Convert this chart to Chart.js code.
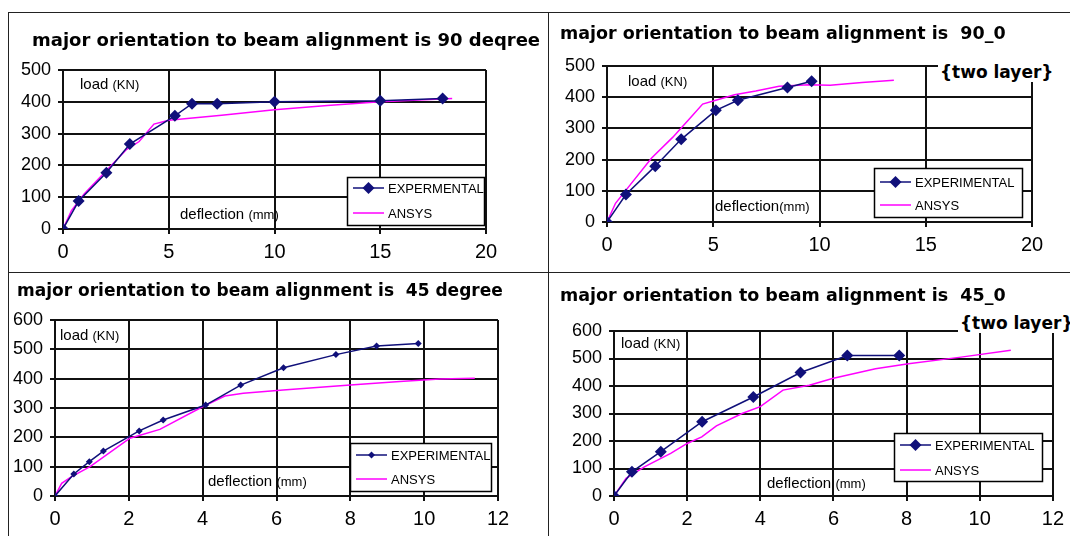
<!DOCTYPE html>
<html>
<head>
<meta charset="utf-8">
<script src="https://cdn.jsdelivr.net/npm/chart.js@4.4.0/dist/chart.umd.min.js"></script>
<style>
	body { margin: 0; width: 1070px; height: 536px; background: #fff; position: relative; overflow: hidden; font-family: "Liberation Sans", Arial, sans-serif; }
	canvas { position: absolute; }
	.rule { position: absolute; background: #222; }
	.title { position: absolute; font: bold 17px "DejaVu Sans", Verdana, sans-serif; line-height: 20px; white-space: pre; color: #000; z-index: 2; }
	.layer { background: #fff; padding: 0 2px; }
	.inner { position: absolute; font-size: 15px; line-height: 18px; white-space: pre; color: #000; z-index: 2; }
	.inner small { font-size: 13px; }
</style>
</head>
<body>

<div class="rule" style="left:8px;top:12px;width:1062px;height:1px"></div>
<div class="rule" style="left:8px;top:12px;width:1px;height:524px"></div>
<div class="rule" style="left:548px;top:12px;width:1px;height:524px"></div>
<div class="rule" style="left:8px;top:272px;width:1062px;height:1px"></div>

<div class="title" style="left:32px;top:30px;font-size:18px">major orientation to beam alignment is 90 deqree</div>
<div class="title" style="left:560px;top:23px;font-size:17.5px">major orientation to beam alignment is  90_0</div>
<div class="title layer" style="left:938px;top:62px">{two layer}</div>
<div class="title" style="left:17px;top:280px">major orientation to beam alignment is  45 degree</div>
<div class="title" style="left:560px;top:285px;font-size:17.5px">major orientation to beam alignment is  45_0</div>
<div class="title layer" style="left:958px;top:313px">{two layer}</div>

<div class="inner" style="left:80px;top:75px">load <small>(KN)</small></div>
<div class="inner" style="left:180px;top:205px">deflection <small>(mm)</small></div>
<div class="inner" style="left:628px;top:72px">load <small>(KN)</small></div>
<div class="inner" style="left:715px;top:197px">deflection<small>(mm)</small></div>
<div class="inner" style="left:60px;top:326px">load <small>(KN)</small></div>
<div class="inner" style="left:208px;top:472px">deflection <small>(mm)</small></div>
<div class="inner" style="left:621px;top:334px">load <small>(KN)</small></div>
<div class="inner" style="left:767px;top:474px">deflection <small>(mm)</small></div>

<canvas id="chart90" width="540" height="260" style="left:8px;top:12px"></canvas>
<canvas id="chart900" width="521" height="259" style="left:549px;top:13px"></canvas>
<canvas id="chart45" width="539" height="263" style="left:9px;top:273px"></canvas>
<canvas id="chart450" width="521" height="263" style="left:549px;top:273px"></canvas>

<script>
// 90 degree
const exp90X = [0, 0.74, 2.05, 3.16, 5.29, 6.1, 7.29, 10, 15, 17.95];
const exp90Y = [0, 88, 177, 267, 356, 394, 394, 400, 403, 410];
const ansys90X = [0, 0.4, 1, 2, 3, 3.6, 4.3, 5, 6, 7.5, 10, 12.5, 15, 18.4];
const ansys90Y = [0, 58, 110, 180, 250, 275, 330, 342, 348, 358, 375, 388, 400, 410];

// 90_0 two layer
const exp900X = [0, 0.89, 2.27, 3.49, 5.12, 6.16, 8.49, 9.63];
const exp900Y = [0, 88, 179, 265, 358, 390, 431, 451];
const ansys900X = [0, 0.4, 0.95, 2.1, 3.1, 4, 4.5, 5.2, 6, 7, 8.1, 9.5, 10.5, 12, 13.5];
const ansys900Y = [0, 60, 107, 205, 272, 340, 378, 392, 408, 420, 435, 440, 438, 447, 454];

// 45 degree
const exp45X = [0, 0.51, 0.93, 1.31, 2.28, 2.93, 4.08, 5.03, 6.19, 7.61, 8.71, 9.84];
const exp45Y = [0, 75, 117, 153, 222, 259, 310, 378, 437, 482, 511, 520];
const ansys45X = [0, 0.18, 0.45, 0.95, 2.03, 2.84, 4.01, 4.6, 5.1, 6.18, 8, 9.34, 10.42, 11.37];
const ansys45Y = [0, 43, 66, 100, 197, 227, 305, 341, 350, 361, 378, 390, 399, 401];

// 45_0 two layer
const exp450X = [0, 0.49, 1.28, 2.41, 3.81, 5.1, 6.38, 7.8];
const exp450Y = [0, 88, 161, 270, 360, 449, 511, 511];
const ansys450X = [0, 0.33, 0.83, 1.55, 2.0, 2.4, 2.8, 3.5, 4, 4.62, 5.34, 5.97, 7.15, 8.05, 9.49, 10.85];
const ansys450Y = [0, 64, 106, 155, 191, 215, 255, 300, 325, 385, 403, 427, 463, 481, 505, 530];

const NAVY = "#10107a";
const PINK = "#ff00ff";

function toPoints(xs, ys) {
	return xs.map((x, i) => ({ x, y: ys[i] }));
}

// legend drawn as a white box inside the plot
const boxLegend = {
	id: "boxLegend",
	afterDraw(chart, args, opts) {
		const { ctx, chartArea } = chart;
		const x = Math.round(chartArea.right - opts.right - opts.width);
		const y = Math.round(chartArea.bottom - opts.bottom - opts.height);
		ctx.save();
		ctx.fillStyle = "#fff";
		ctx.fillRect(x, y, opts.width, opts.height);
		ctx.strokeStyle = "#000";
		ctx.lineWidth = 1.5;
		ctx.strokeRect(x + 0.5, y + 0.5, opts.width, opts.height);
		chart.data.datasets.forEach((ds, i) => {
			const ry = y + opts.rows[i];
			ctx.strokeStyle = ds.borderColor;
			ctx.lineWidth = ds.borderWidth;
			ctx.beginPath();
			ctx.moveTo(x + 6, ry);
			ctx.lineTo(x + 37, ry);
			ctx.stroke();
			if (ds.pointRadius) {
				const r = ds.pointRadius;
				ctx.fillStyle = ds.pointBackgroundColor;
				ctx.beginPath();
				ctx.moveTo(x + 21.5 - r, ry);
				ctx.lineTo(x + 21.5, ry - r);
				ctx.lineTo(x + 21.5 + r, ry);
				ctx.lineTo(x + 21.5, ry + r);
				ctx.closePath();
				ctx.fill();
			}
			ctx.fillStyle = "#000";
			ctx.font = '13px "Liberation Sans", Arial, sans-serif';
			ctx.textBaseline = "middle";
			ctx.fillText(ds.label, x + 41, ry + 1);
		});
		ctx.restore();
	},
};

function makeChart(id, o) {
	const tickFont = { family: '"Liberation Sans", Arial, sans-serif' };
	return new Chart(document.getElementById(id), {
		type: "scatter",
		data: {
			datasets: [
				{
					label: o.expLabel,
					data: toPoints(o.expX, o.expY),
					showLine: true,
					borderColor: NAVY,
					borderWidth: 1.5,
					pointStyle: "rectRot",
					pointRadius: o.marker,
					pointBackgroundColor: NAVY,
					pointBorderWidth: 0,
					order: 1,
				},
				{
					label: "ANSYS",
					data: toPoints(o.ansX, o.ansY),
					showLine: true,
					borderColor: PINK,
					borderWidth: 1.5,
					pointRadius: 0,
					order: 2,
				},
			],
		},
		options: {
			responsive: false,
			animation: false,
			layout: { padding: { left: 0, bottom: 0, top: o.padTop, right: o.padRight } },
			plugins: {
				legend: { display: false },
				tooltip: { enabled: false },
				boxLegend: o.legend,
			},
			scales: {
				x: {
					type: "linear",
					min: 0,
					max: o.xMax,
					ticks: { stepSize: o.xStep, color: "#000", padding: 6, font: { ...tickFont, size: 20 } },
					grid: { color: "#111", lineWidth: 2, tickLength: 5 },
					border: { color: "#111", width: 2 },
					afterFit: (s) => { s.height = o.xHeight; },
				},
				y: {
					min: 0,
					max: o.yMax,
					ticks: { stepSize: 100, color: "#000", padding: 7, font: { ...tickFont, size: 18 } },
					grid: { color: "#111", lineWidth: 2, tickLength: 5 },
					border: { color: "#111", width: 2 },
					afterFit: (s) => { s.width = o.yWidth; },
				},
			},
		},
		plugins: [boxLegend],
	});
}

makeChart("chart90", {
	expLabel: "EXPERMENTAL", expX: exp90X, expY: exp90Y, ansX: ansys90X, ansY: ansys90Y,
	xMax: 20, xStep: 5, yMax: 500, marker: 6,
	padTop: 58, padRight: 62, yWidth: 55, xHeight: 43,
	legend: { right: 2, bottom: 4, width: 137, height: 48, rows: [11, 36] },
});

makeChart("chart900", {
	expLabel: "EXPERIMENTAL", expX: exp900X, expY: exp900Y, ansX: ansys900X, ansY: ansys900Y,
	xMax: 20, xStep: 5, yMax: 500, marker: 6,
	padTop: 53, padRight: 38, yWidth: 58, xHeight: 50,
	legend: { right: 10, bottom: 5, width: 148, height: 49, rows: [14, 37] },
});

makeChart("chart45", {
	expLabel: "EXPERIMENTAL", expX: exp45X, expY: exp45Y, ansX: ansys45X, ansY: ansys45Y,
	xMax: 12, xStep: 2, yMax: 600, marker: 3.5,
	padTop: 47, padRight: 50, yWidth: 46, xHeight: 40,
	legend: { right: 7, bottom: 5, width: 141, height: 48, rows: [12, 36] },
});

makeChart("chart450", {
	expLabel: "EXPERIMENTAL", expX: exp450X, expY: exp450Y, ansX: ansys450X, ansY: ansys450Y,
	xMax: 12, xStep: 2, yMax: 600, marker: 6,
	padTop: 58, padRight: 12, yWidth: 65, xHeight: 40,
	legend: { right: 11, bottom: 15, width: 148, height: 48, rows: [12, 37] },
});
</script>
</body>
</html>
